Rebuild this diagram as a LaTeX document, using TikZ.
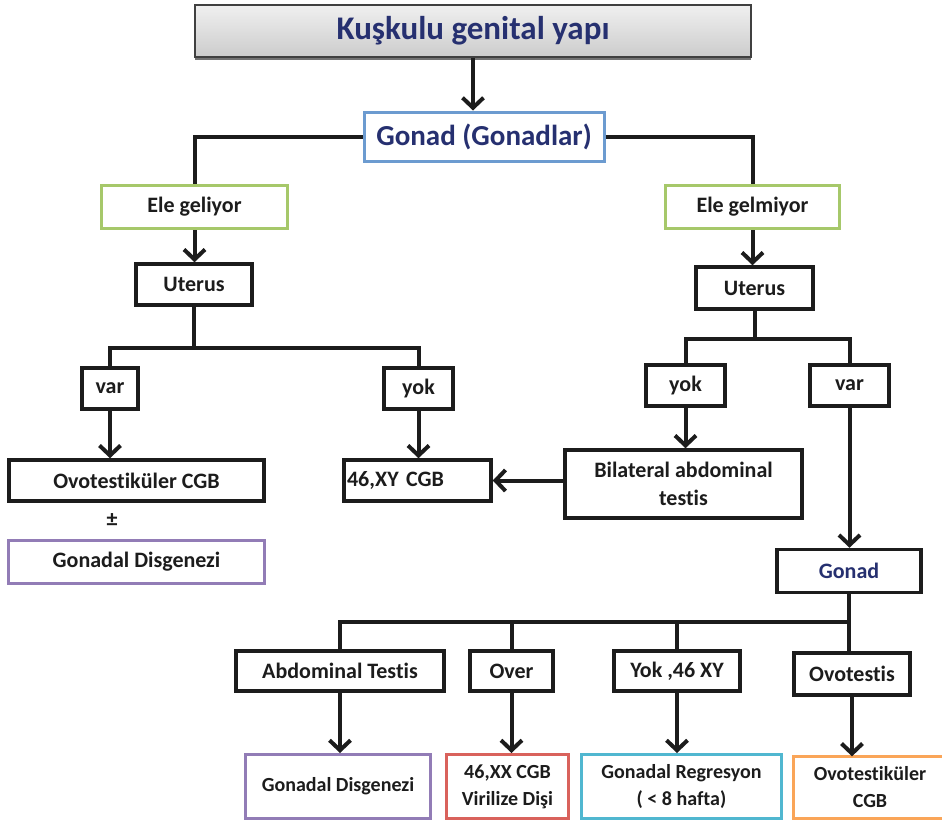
\documentclass[tikz,border=0pt]{standalone}
\usepackage{fontspec}
\setmainfont{Carlito}[Ligatures=NoCommon]
\usetikzlibrary{arrows.meta,shadows}
\definecolor{navy}{RGB}{38,48,112}
\definecolor{txt}{RGB}{28,28,28}
\definecolor{gbox}{RGB}{166,200,106}
\definecolor{bbox}{RGB}{108,155,208}
\definecolor{pbox}{RGB}{146,124,182}
\definecolor{rbox}{RGB}{217,98,92}
\definecolor{cbox}{RGB}{80,183,208}
\definecolor{obox}{RGB}{250,165,88}

\begin{document}
\begin{tikzpicture}[x=1pt,y=-1pt,%
    every node/.style={font=\bfseries\fontsize{22}{28}\selectfont,%
    text=txt, inner sep=0pt, align=center},%
    box/.style={draw=txt, line width=3.5pt, fill=white},%
    colbox/.style={draw=#1, line width=3pt, fill=white},%
    small/.style={font=\bfseries\fontsize{20}{27}\selectfont},%
    line/.style={line width=4pt, draw=txt},%
    arr/.style={line, -{Straight Barb[length=10pt,width=21pt]}}]
  \useasboundingbox (0,0) rectangle (942,825);
  \node[draw=black!75, line width=1.5pt, top color=black!6,%
    bottom color=black!20, minimum width=556pt, minimum height=52pt,%
    drop shadow={shadow xshift=0pt, shadow yshift=-2.5pt, fill=black!55, opacity=1},%
    font=\bfseries\fontsize{33}{36}\selectfont, text=navy]%
    (title) at (473,31) {Kuşkulu genital yapı};
  \node[colbox=bbox, minimum width=240pt, minimum height=49pt,%
    font=\bfseries\fontsize{29}{32}\selectfont, text=navy]%
    (gonad) at (484,136.5) {Gonad (Gonadlar)};

  % left side
  \node[colbox=gbox, minimum width=186pt, minimum height=43pt] (geli) at (194.5,207) {Ele geliyor};
  \node[box, minimum width=116pt, minimum height=41pt] (uterusl) at (194,284.5) {Uterus};
  \node[box, minimum width=56pt, minimum height=41pt] (varl) at (110,388.5) {var};
  \node[box, minimum width=69pt, minimum height=41pt] (yokl) at (418.5,388.5) {yok};
  \node[box, minimum width=255pt, minimum height=41pt] (ovotl) at (136.5,480.5) {Ovotestiküler CGB};
  \node (pm) at (112,520) {±};
  \node[colbox=pbox, minimum width=256pt, minimum height=43pt] (gdl) at (136.5,562) {Gonadal Disgenezi};
  \node[box, minimum width=147pt, minimum height=41pt, text width=141pt, align=left]%
    (xy) at (417.5,480.5) {46,XY CGB};

  % right side
  \node[colbox=gbox, minimum width=174pt, minimum height=43pt] (gelmi) at (752.5,207) {Ele gelmiyor};
  \node[box, minimum width=117pt, minimum height=42pt] (uterusr) at (754.5,288) {Uterus};
  \node[box, minimum width=79pt, minimum height=41pt] (yokr) at (685.5,385.5) {yok};
  \node[box, minimum width=79pt, minimum height=41pt] (varr) at (849.5,385.5) {var};
  \node[box, minimum width=237pt, minimum height=68pt] (bil) at (683.5,484) {Bilateral abdominal\\testis};
  \node[box, minimum width=144pt, minimum height=43pt, text=navy] (gonr) at (849,571) {Gonad};

  % bottom rows
  \node[box, minimum width=208pt, minimum height=40pt] (abd) at (340,671) {Abdominal Testis};
  \node[box, minimum width=83pt, minimum height=40pt] (over) at (511.5,671) {Over};
  \node[box, minimum width=126pt, minimum height=40pt] (yokxy) at (677,671) {Yok ,46 XY};
  \node[box, minimum width=116pt, minimum height=42pt] (ovo) at (852,674) {Ovotestis};
  \node[colbox=pbox, small, minimum width=185pt, minimum height=64pt] (gdb) at (338,786.5) {Gonadal Disgenezi};
  \node[colbox=rbox, small, minimum width=122pt, minimum height=64pt] (xx) at (507.5,786.5) {46,XX CGB\\Virilize Dişi};
  \node[colbox=cbox, small, minimum width=200pt, minimum height=64pt] (reg) at (681.5,786.5) {Gonadal Regresyon\\( < 8 hafta)};
  \node[small, minimum width=153pt, minimum height=62pt] (ovob) at (870,787.5) {Ovotestiküler\\CGB};
  \draw[draw=obox, line width=3pt] (ovob.south west) rectangle ([xshift=20pt]ovob.north east);

  % connectors
  \draw[arr] (title.south) -- (title.south |- gonad.north);
  \draw[line] (gonad.west) -| (geli.north);
  \draw[line] (gonad.east) -| (gelmi.north);
  \draw[arr] (geli.south) -- (geli.south |- uterusl.north);
  \coordinate (jl) at (194,348);
  \draw[line] (uterusl.south) -- (jl);
  \draw[line] (varl.north) |- (jl) -| (yokl.north);
  \draw[arr] (varl.south) -- (varl.south |- ovotl.north);
  \draw[arr] (yokl.south) -- (yokl.south |- xy.north);
  \draw[arr] (bil.west |- xy.east) -- (xy.east);
  \draw[arr] (gelmi.south) -- (gelmi.south |- uterusr.north);
  \coordinate (jr) at (754.5,339);
  \draw[line] (uterusr.south) -- (jr);
  \draw[line] (yokr.north) |- (jr) -| (varr.north);
  \draw[arr] (yokr.south) -- (yokr.south |- bil.north);
  \draw[arr] (varr.south) -- (varr.south |- gonr.north);
  \coordinate (jb) at (848,622);
  \draw[line] (gonr.south) -- (gonr.south |- ovo.north);
  \draw[line] (abd.north) |- (jb);
  \draw[line] (over.north) -- (over.north |- jb);
  \draw[line] (yokxy.north) -- (yokxy.north |- jb);
  \draw[arr] (abd.south) -- (abd.south |- gdb.north);
  \draw[arr] (over.south) -- (over.south |- xx.north);
  \draw[arr] (yokxy.south) -- (yokxy.south |- reg.north);
  \draw[arr] (ovo.south) -- (ovo.south |- ovob.north);
\end{tikzpicture}
\end{document}
